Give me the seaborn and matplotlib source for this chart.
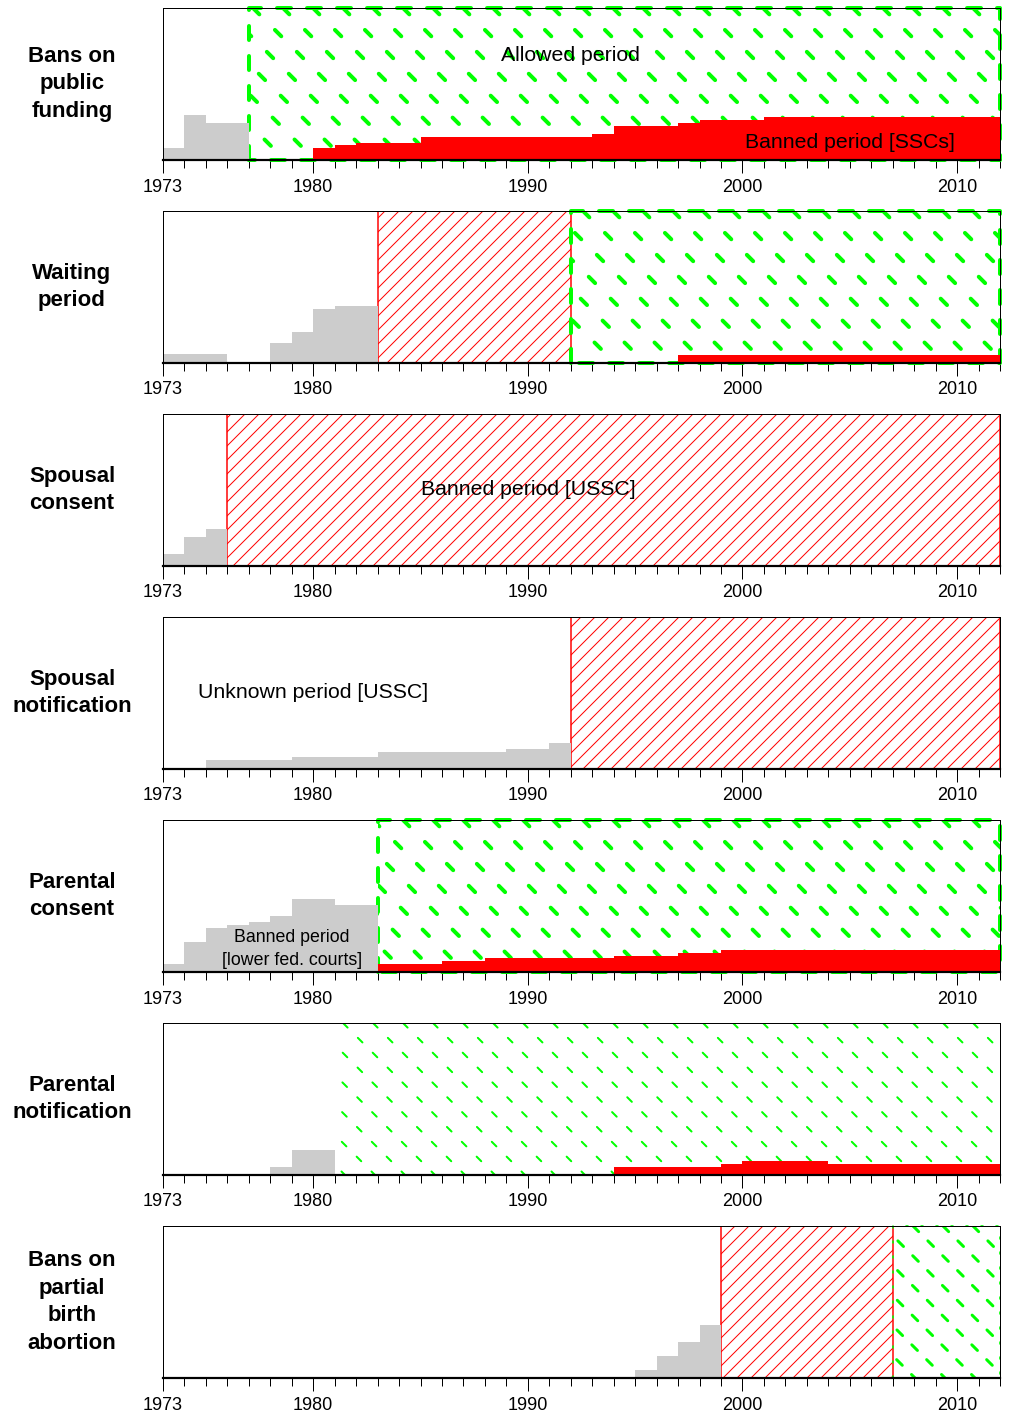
import numpy as np
import pandas as pd
import matplotlib
matplotlib.use("Agg")
import matplotlib.pyplot as plt
import seaborn as sns
from matplotlib.collections import LineCollection
from matplotlib.patches import Rectangle

# ---------------- data ----------------
LABELS = ["Bans on\npublic\nfunding", "Waiting\nperiod", "Spousal\nconsent",
          "Spousal\nnotification", "Parental\nconsent", "Parental\nnotification",
          "Bans on\npartial\nbirth\nabortion"]

# step series: start years, values, end year
FUNDING_GREY_START = [1973, 1974, 1975]
FUNDING_GREY = [3.9, 14.8, 12.2]
FUNDING_GREY_END = 1977
FUNDING_RED_START = [1980, 1981, 1982, 1985, 1993, 1994, 1997, 1998, 2001]
FUNDING_RED = [4.0, 4.9, 5.6, 7.6, 8.6, 11.2, 12.2, 13.2, 14.1]

WAITING_GREY_START = [1973, 1976, 1978, 1979, 1980, 1981]
WAITING_GREY = [2.9, 0.0, 6.5, 10.1, 17.7, 18.6]
WAITING_GREY_END = 1983
WAITING_RED_START = [1997]
WAITING_RED = [2.6]

SPCONSENT_GREY_START = [1973, 1974, 1975]
SPCONSENT_GREY = [3.9, 9.5, 12.2]
SPCONSENT_GREY_END = 1976

SPNOTIF_GREY_START = [1975, 1979, 1983, 1989, 1991]
SPNOTIF_GREY = [2.9, 3.9, 5.5, 6.5, 8.5]
SPNOTIF_GREY_END = 1992

PARCONSENT_GREY_START = [1973, 1974, 1975, 1976, 1977, 1978, 1979, 1981]
PARCONSENT_GREY = [2.7, 9.9, 14.5, 15.6, 16.4, 18.4, 24.0, 22.0]
PARCONSENT_GREY_END = 1983
PARCONSENT_RED_START = [1983, 1986, 1988, 1994, 1997, 1999]
PARCONSENT_RED = [2.7, 3.6, 4.6, 5.3, 6.25, 7.2]

PARNOTIF_GREY_START = [1978, 1979]
PARNOTIF_GREY = [2.7, 8.3]
PARNOTIF_GREY_END = 1981
PARNOTIF_RED_START = [1994, 1999, 2000, 2004]
PARNOTIF_RED = [2.7, 3.7, 4.7, 3.7]

PBA_GREY_START = [1995, 1996, 1997, 1998]
PBA_GREY = [2.6, 7.2, 11.8, 17.4]
PBA_GREY_END = 1999

RED_END = 2012

# periods
FUNDING_ALLOWED = (1977, 2012)
WAITING_BANNED = (1983, 1992)
WAITING_ALLOWED = (1992, 2012)
SPCONSENT_BANNED = (1976, 2012)
SPNOTIF_BANNED = (1992, 2012)
PARCONSENT_ALLOWED = (1983, 2012)
PARNOTIF_ALLOWED = (1981, 2012)
PBA_BANNED = (1999, 2007)
PBA_ALLOWED = (2007, 2012)

XMIN, XMAX = 1973, 2012
YMAX = 50
MAJOR_TICKS = [1973, 1980, 1990, 2000, 2010]

# ---------------- layout ----------------
DPI = 100
FIG_W, FIG_H = 1011, 1414
AX_L, AX_W, AX_H = 163, 837, 152
PANEL_TOPS = [8, 211, 414, 617, 820, 1023, 1226]
GREY = "#CCCCCC"
RED = "#FF0000"
GREEN = "#00FF00"
PX = 72.0 / DPI  # points per pixel

GREEN_STYLES = {
    "thick": dict(lw=4.0, on=9.0, off=22.0, sp=30.0, border=True, blw=4.0, bon=14.0, boff=16.0),
    "thin": dict(lw=2.0, on=6.5, off=14.5, sp=30.0, border=False, blw=0, bon=0, boff=0),
    "medium": dict(lw=3.0, on=8.0, off=13.0, sp=30.0, border=True, blw=1.6, bon=2.0, boff=13.0),
}
RED_SPACING = 14.0


def expand(starts, vals, end):
    xs, ws = [], []
    for i, (s, v) in enumerate(zip(starts, vals)):
        e = starts[i + 1] if i + 1 < len(starts) else end
        for y in range(s, e):
            xs.append(y + 0.5)
            ws.append(v)
    return pd.DataFrame({"year": xs, "n": ws})


def hatch(ax, x0, x1, direction, sp, lw, color, dashes=None, zorder=1.0):
    sx = AX_W / (XMAX - XMIN)
    sy = AX_H / YMAX
    X0 = (x0 - XMIN) * sx
    X1 = (x1 - XMIN) * sx
    H = AX_H
    kmin = int(np.floor((X0 - H) / sp)) - 1
    kmax = int(np.ceil(X1 / sp)) + 1
    segs = []
    for k in range(kmin, kmax + 1):
        c = k * sp
        if direction == "/":
            p = [(c, 0.0), (c + H, H)]
        else:
            p = [(c, H), (c + H, 0.0)]
        segs.append([(XMIN + px / sx, py / sy) for px, py in p])
    ls = "solid" if dashes is None else (0, (dashes[0] * PX, dashes[1] * PX))
    lc = LineCollection(segs, colors=color, linewidths=lw * PX, linestyles=ls,
                        zorder=zorder)
    lc.set_capstyle("round")
    rect = Rectangle((x0, 0), x1 - x0, YMAX, transform=ax.transData)
    ax.add_collection(lc)
    lc.set_clip_path(rect)


def banned_region(ax, period):
    x0, x1 = period
    hatch(ax, x0, x1, "/", RED_SPACING, 1.0, RED, zorder=1.0)
    ax.add_patch(Rectangle((x0, 0), x1 - x0, YMAX, fill=False, edgecolor=RED,
                           linewidth=1.5 * PX, zorder=1.5))


def allowed_region(ax, period, style):
    st = GREEN_STYLES[style]
    x0, x1 = period
    hatch(ax, x0, x1, "\\", st["sp"], st["lw"], GREEN, dashes=(st["on"], st["off"]), zorder=1.1)
    if st["border"]:
        ax.plot([x0, x0, x1, x1, x0], [0, YMAX, YMAX, 0, 0], color=GREEN,
                linewidth=st["blw"] * PX, solid_capstyle="round",
                dash_capstyle="round",
                linestyle=(0, (st["bon"] * PX, st["boff"] * PX)),
                clip_on=False, zorder=1.6)


def bars(ax, df, color):
    sns.histplot(data=df, x="year", weights="n", bins=XMAX - XMIN,
                 binrange=(XMIN, XMAX),
                 color=color, alpha=1.0, linewidth=0, edgecolor="none",
                 element="bars", fill=True, ax=ax, zorder=3)


# ---------------- figure ----------------
sns.set_theme(style="white")
plt.rcParams["font.family"] = ["Liberation Sans", "DejaVu Sans"]
plt.rcParams["lines.scale_dashes"] = False
plt.rcParams["text.color"] = "black"
plt.rcParams["xtick.color"] = "black"
plt.rcParams["xtick.labelcolor"] = "black"

fig = plt.figure(figsize=(FIG_W / DPI, FIG_H / DPI), dpi=DPI)
fig.patch.set_facecolor("white")

panels = [
    dict(grey=expand(FUNDING_GREY_START, FUNDING_GREY, FUNDING_GREY_END),
         red=expand(FUNDING_RED_START, FUNDING_RED, RED_END),
         banned=[], allowed=[(FUNDING_ALLOWED, "thick")]),
    dict(grey=expand(WAITING_GREY_START, WAITING_GREY, WAITING_GREY_END),
         red=expand(WAITING_RED_START, WAITING_RED, RED_END),
         banned=[WAITING_BANNED], allowed=[(WAITING_ALLOWED, "thick")]),
    dict(grey=expand(SPCONSENT_GREY_START, SPCONSENT_GREY, SPCONSENT_GREY_END),
         red=None, banned=[SPCONSENT_BANNED], allowed=[]),
    dict(grey=expand(SPNOTIF_GREY_START, SPNOTIF_GREY, SPNOTIF_GREY_END),
         red=None, banned=[SPNOTIF_BANNED], allowed=[]),
    dict(grey=expand(PARCONSENT_GREY_START, PARCONSENT_GREY, PARCONSENT_GREY_END),
         red=expand(PARCONSENT_RED_START, PARCONSENT_RED, RED_END),
         banned=[], allowed=[(PARCONSENT_ALLOWED, "thick")]),
    dict(grey=expand(PARNOTIF_GREY_START, PARNOTIF_GREY, PARNOTIF_GREY_END),
         red=expand(PARNOTIF_RED_START, PARNOTIF_RED, RED_END),
         banned=[], allowed=[(PARNOTIF_ALLOWED, "thin")]),
    dict(grey=expand(PBA_GREY_START, PBA_GREY, PBA_GREY_END),
         red=None, banned=[PBA_BANNED], allowed=[(PBA_ALLOWED, "medium")]),
]

axes = []
for i, (top, p) in enumerate(zip(PANEL_TOPS, panels)):
    ax = fig.add_axes([AX_L / FIG_W, 1 - (top + AX_H) / FIG_H, AX_W / FIG_W, AX_H / FIG_H])
    axes.append(ax)
    ax.set_facecolor("white")
    for b in p["banned"]:
        banned_region(ax, b)
    for a, style in p["allowed"]:
        allowed_region(ax, a, style)
    bars(ax, p["grey"], GREY)
    if p["red"] is not None:
        bars(ax, p["red"], RED)
    ax.set_xlim(XMIN, XMAX)
    ax.set_ylim(0, YMAX)
    ax.set_xlabel("")
    ax.set_ylabel("")
    ax.set_yticks([])
    ax.set_xticks(MAJOR_TICKS)
    ax.set_xticklabels([str(t) for t in MAJOR_TICKS])
    ax.set_xticks(np.arange(XMIN, XMAX + 1), minor=True)
    ax.tick_params(axis="x", which="major", length=13 * PX, width=1.0 * PX,
                   direction="out", pad=5.5 * PX, labelsize=13, colors="black",
                   bottom=True)
    ax.tick_params(axis="x", which="minor", length=8 * PX, width=1.0 * PX,
                   direction="out", bottom=True, colors="black")
    for side in ["left", "right", "top"]:
        ax.spines[side].set_linewidth(1.0 * PX)
        ax.spines[side].set_color("black")
    ax.spines["bottom"].set_linewidth(2.2 * PX)
    ax.spines["bottom"].set_color("black")
    for s in ax.spines.values():
        s.set_zorder(4)
    cy = 1 - (top + AX_H / 2) / FIG_H
    fig.text(72 / FIG_W, cy, LABELS[i], ha="center", va="center",
             multialignment="center", fontsize=16, fontweight="bold",
             linespacing=1.42, color="black")

TXT = 15.3
axes[0].text(1992, 34.5, "Allowed period", ha="center", va="center", fontsize=TXT, zorder=6)
axes[0].text(2005, 5.9, "Banned period [SSCs]", ha="center", va="center", fontsize=TXT, zorder=6)
axes[2].text(1990, 25.3, "Banned period [USSC]", ha="center", va="center", fontsize=TXT, zorder=6)
axes[3].text(1980, 25.0, "Unknown period [USSC]", ha="center", va="center", fontsize=TXT, zorder=6)
axes[4].text(1979, 7.6, "Banned period\n[lower fed. courts]", ha="center", va="center",
             fontsize=12.8, linespacing=1.45, zorder=6)

fig.savefig("out.png", dpi=DPI, facecolor="white")
